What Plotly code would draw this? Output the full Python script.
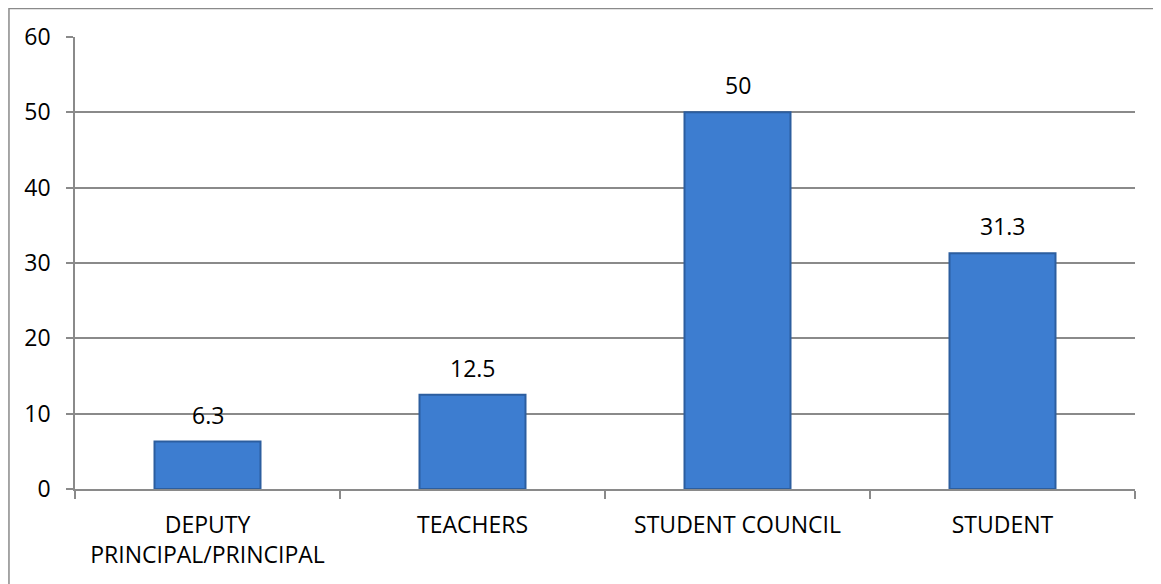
import plotly.graph_objects as go

categories = ["DEPUTY<br>PRINCIPAL/PRINCIPAL", "TEACHERS", "STUDENT COUNCIL", "STUDENT"]
values = [6.3, 12.5, 50, 31.3]
value_labels = ["6.3", "12.5", "50", "31.3"]
y_ticks = [0, 10, 20, 30, 40, 50, 60]

FONT = "Open Sans"
GRID = "#8a8a8a"

fig = go.Figure()
fig.add_trace(go.Bar(
    x=categories, y=values, width=0.4,
    marker=dict(color="#3d7dd0", line=dict(color="#2c5e9f", width=2)),
    hoverinfo="skip",
))

for c, v, t in zip(categories, values, value_labels):
    fig.add_annotation(x=c, y=v, text=t, showarrow=False, yanchor="bottom",
                       yshift=9, font=dict(family=FONT, size=23, color="#000000"))

fig.add_shape(type="rect", xref="paper", yref="paper",
              x0=-0.0623, x1=1.1, y0=-0.4, y1=1.063,
              line=dict(color=GRID, width=1.5), fillcolor="rgba(0,0,0,0)", layer="below")

fig.update_layout(
    width=1161, height=584,
    margin=dict(l=67, r=34, t=29, b=103),
    paper_bgcolor="white", plot_bgcolor="white",
    showlegend=False,
    font=dict(family=FONT, size=23, color="#000000"),
    bargap=0.6,
)
fig.update_xaxes(
    type="category", showline=True, linecolor=GRID, linewidth=1.5,
    ticks="outside", tickson="boundaries", ticklen=8, tickcolor=GRID, tickwidth=1.5,
    showgrid=False, ticklabelstandoff=15,
    tickfont=dict(family=FONT, size=23, color="#000000"),
)
fig.update_yaxes(
    range=[0, 60], tickvals=y_ticks, showline=True, linecolor=GRID, linewidth=1.5,
    ticks="outside", ticklen=7, tickcolor=GRID, tickwidth=1.5,
    showgrid=True, gridcolor=GRID, gridwidth=1.5, zeroline=False,
    ticklabelstandoff=11, tickfont=dict(family=FONT, size=23, color="#000000"),
)

fig.write_html("out.html")
